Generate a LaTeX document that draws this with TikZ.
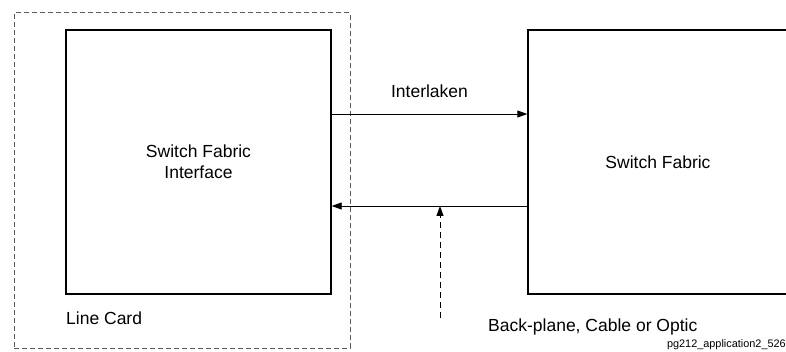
\documentclass[tikz,border=0pt]{standalone}
\usepackage{fontspec}
\setmainfont{Liberation Sans}
\usetikzlibrary{arrows.meta}
\begin{document}
\begin{tikzpicture}[x=1pt,y=-1pt,
  blockbox/.style={draw,line width=1.4pt,inner sep=0pt,align=center,
    font=\fontsize{17.5}{21}\selectfont},
  lbl/.style={inner sep=0pt,font=\fontsize{17.5}{21}\selectfont},
  tinylbl/.style={inner sep=0pt,font=\fontsize{10.9}{12}\selectfont},
  conn/.style={line width=0.9pt,-{Triangle[length=10pt,width=7pt]}},
  cardbox/.style={draw=black!65,line width=1pt,dash pattern=on 5pt off 3pt}]
\clip (0,0) rectangle (786,352);
\fill[white] (0,0) rectangle (786,352);
\node[cardbox,minimum width=336pt,minimum height=335pt,inner sep=0pt] (card) at (182,180.5) {};
\node[blockbox,minimum width=265pt,minimum height=264pt] (sfi) at (198.5,162) {Switch Fabric\\Interface};
\node[blockbox,minimum width=260pt,minimum height=264pt] (sf) at (658,162) {Switch Fabric};
\draw[conn] (sfi.east |- 0,114) -- (sf.west |- 0,114) node[lbl,midway,anchor=base,yshift=16pt] (il) {Interlaken};
\draw[conn] (sf.west |- 0,206) -- (sfi.east |- 0,206);
\coordinate (bp) at (440,318);
\coordinate (mid) at (440,206);
\draw[conn,dash pattern=on 6pt off 4pt] (bp) -- (mid);
\node[lbl,anchor=base west] (lc) at (66,324) {Line Card};
\node[lbl,anchor=base west] (bpl) at (488,331.5) {Back-plane, Cable or Optic};
\node[tinylbl,anchor=base east] (tag) at (786,347.5) {pg212\_application2\_526};
\end{tikzpicture}
\end{document}
